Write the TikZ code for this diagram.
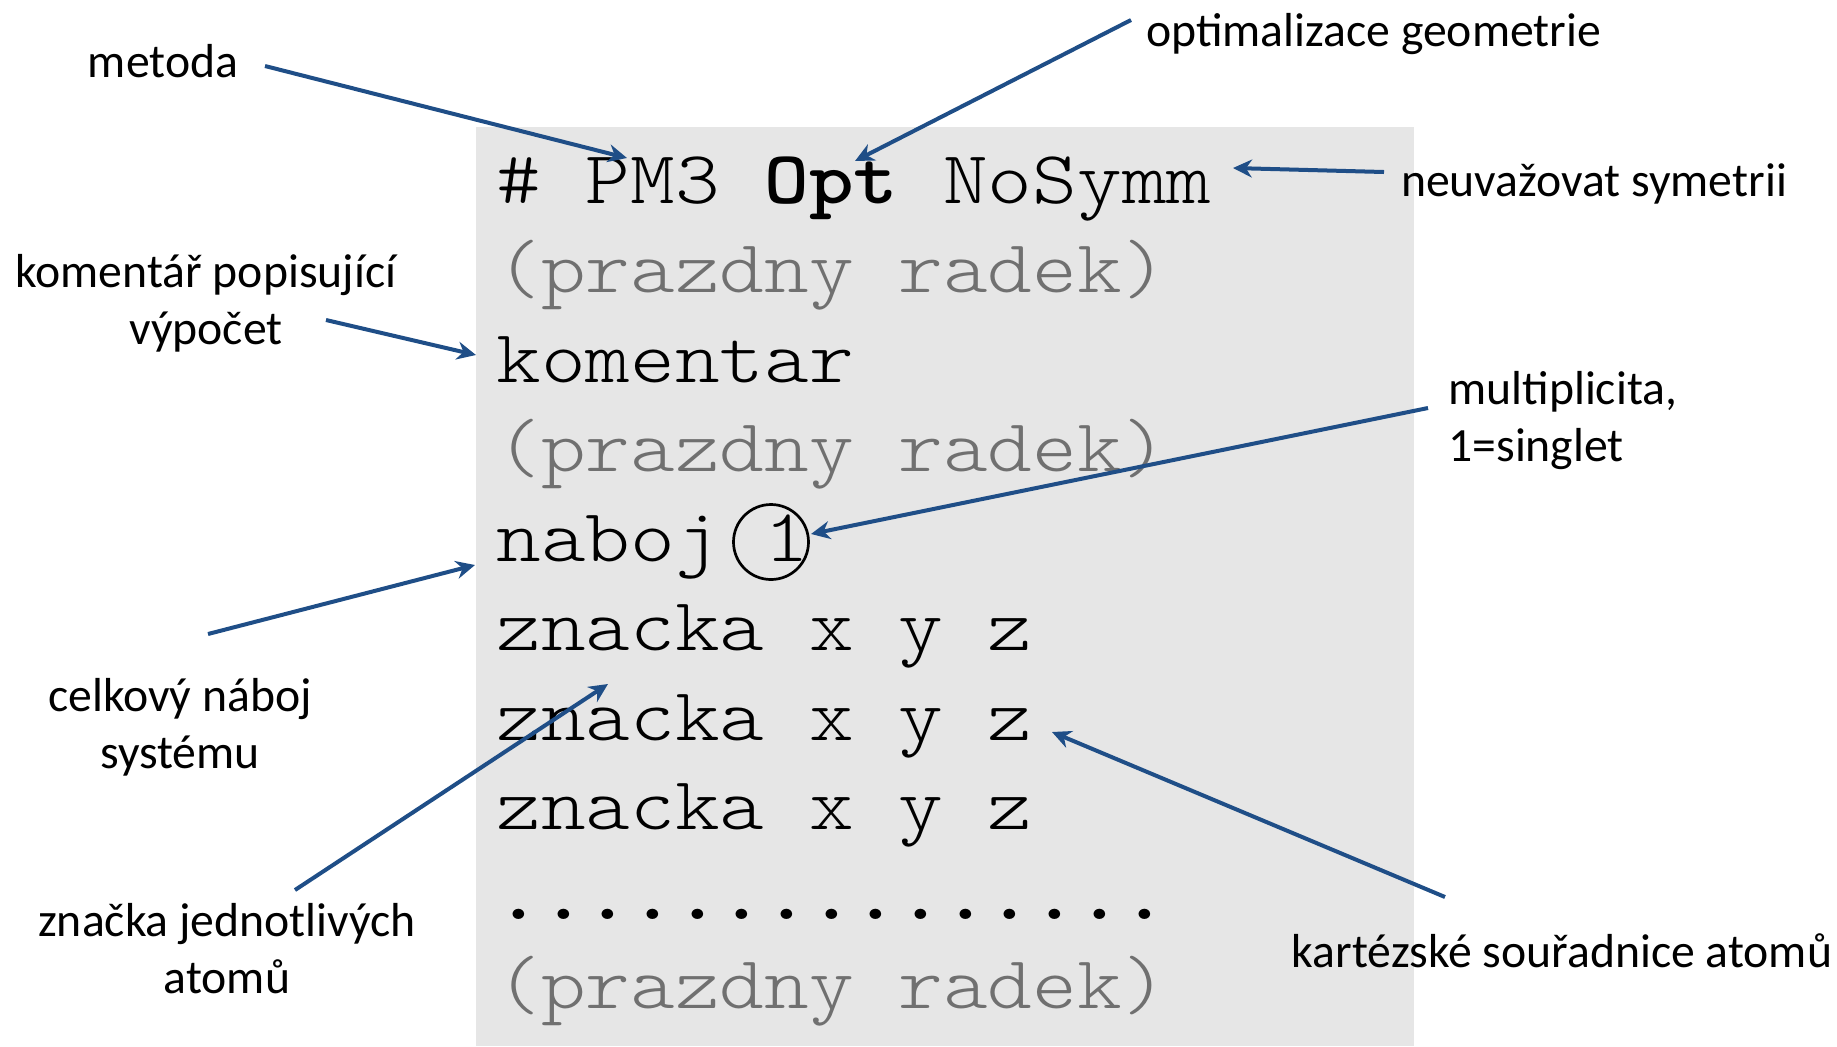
\documentclass[tikz,border=0pt]{standalone}
\usepackage{fontspec}
\setmainfont{Carlito}
\newfontfamily\codefont{lmmonolt10-regular}[Extension=.otf, BoldFont=lmmonolt10-bold, FakeStretch=1.135]
\usetikzlibrary{arrows.meta}
\definecolor{arrowblue}{RGB}{31,78,135}
\definecolor{boxgray}{RGB}{230,230,230}
\definecolor{blanktext}{RGB}{112,112,112}
\begin{document}
\begin{tikzpicture}[x=0.5pt,y=-0.5pt,
  lbl/.style={font=\fontsize{23.85pt}{28.5pt}\selectfont, inner sep=0pt, align=center},
  code/.style={font=\codefont\fontsize{37.5pt}{44.75pt}\selectfont, inner sep=0pt, anchor=base west},
  blank/.style={code, text=blanktext},
  pointer/.style={draw=arrowblue, line width=2pt, -{Stealth[length=9.5pt,width=9pt]}},
]
\useasboundingbox (0,0) rectangle (1837,1046);
\fill[boxgray] (476,127) rectangle (1414,1046);

% code lines
\node[code]  (l1)  at (496,203)    {\# PM3 \textbf{Opt} NoSymm};
\node[blank] (l2)  at (496,292.5)  {(prazdny radek)};
\node[code]  (l3)  at (496,382)    {komentar};
\node[blank] (l4)  at (496,471.5)  {(prazdny radek)};
\node[code]  (l5)  at (496,561)    {naboj 1};
\node[code]  (l6)  at (496,650.5)  {znacka x y z};
\node[code]  (l7)  at (496,740)    {znacka x y z};
\node[code]  (l8)  at (496,829.5)  {znacka x y z};
\node[code]  (l9)  at (496,919)    {\textbf{...............}};
\node[blank] (l10) at (496,1008.5) {(prazdny radek)};
\node[draw, circle, line width=1.35pt, minimum size=37.5pt, inner sep=0pt] (mult) at (771,542) {};

% labels (base anchor = baseline of the last line)
\node[lbl, anchor=base] (metoda) at (163,77) {metoda};
\node[lbl, anchor=base] (optgeo) at (1373.5,46.5) {optimalizace geometrie};
\node[lbl, anchor=base] (nosym) at (1594,196.5) {neuvažovat symetrii};
\node[lbl, anchor=base] (koment) at (206,344) {komentář popisující\\výpočet};
\node[lbl, anchor=base] (naboj) at (180,768) {celkový náboj\\systému};
\node[lbl, anchor=base] (znacka) at (227,993) {značka jednotlivých\\atomů};
\node[lbl, anchor=base west, align=left] (multi) at (1448,461) {multiplicita,\\1=singlet};
\node[lbl, anchor=base] (kart) at (1562,967) {kartézské souřadnice atomů};

% arrow ends
\coordinate (metoda-t) at (265,66);   \coordinate (metoda-h) at (627,158);
\coordinate (optgeo-t) at (1131,20);  \coordinate (optgeo-h) at (855,161);
\coordinate (nosym-t) at (1384,172);  \coordinate (nosym-h) at (1233,168);
\coordinate (koment-t) at (326,320);  \coordinate (koment-h) at (476,355);
\coordinate (multi-t) at (1428,408);  \coordinate (multi-h) at (811,534);
\coordinate (naboj-t) at (208,634);   \coordinate (naboj-h) at (475,565);
\coordinate (znacka-t) at (295,890);  \coordinate (znacka-h) at (608,684);
\coordinate (kart-t) at (1445,897);   \coordinate (kart-h) at (1052,732);

\draw[pointer] (metoda-t) -- (metoda-h);
\draw[pointer] (optgeo-t) -- (optgeo-h);
\draw[pointer] (nosym-t) -- (nosym-h);
\draw[pointer] (koment-t) -- (koment-h);
\draw[pointer] (multi-t) -- (multi-h);
\draw[pointer] (naboj-t) -- (naboj-h);
\draw[pointer] (znacka-t) -- (znacka-h);
\draw[pointer] (kart-t) -- (kart-h);
\end{tikzpicture}
\end{document}
